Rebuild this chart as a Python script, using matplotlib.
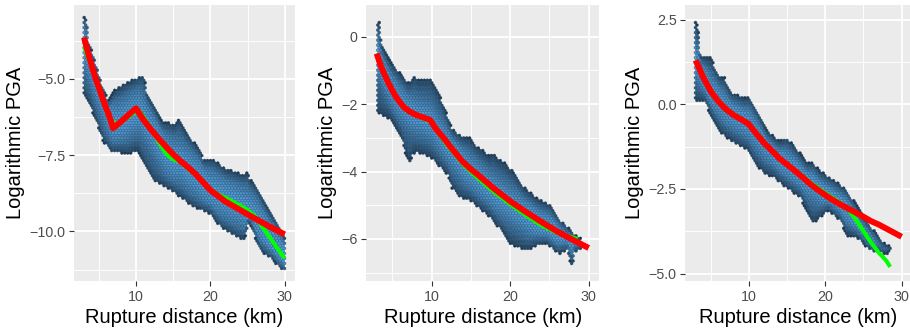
import numpy as np
import matplotlib
matplotlib.use("Agg")
import matplotlib.pyplot as plt
from matplotlib.colors import LinearSegmentedColormap, Normalize
from matplotlib.ticker import MultipleLocator

plt.rcParams['font.family'] = ['Liberation Sans', 'DejaVu Sans']
plt.rcParams['axes.unicode_minus'] = True

# ---------------- data ----------------
# Panel 1: envelope of the hexbin cloud, fitted curves
p1_up_x = [3.0, 3.35, 3.6, 4.48, 5.38, 6.27, 6.6, 7.17, 8.52, 9.64, 10.99, 11.2, 11.44, 12.56, 13.46,
           15.25, 15.7, 15.92, 16.82, 17.71, 18.61, 19.06, 20.4, 22.2, 24.44, 25.0, 25.3, 26.25, 27.59,
           29.38, 30.0]
p1_up_y = [-3.0, -3.0, -3.79, -4.44, -5.21, -5.75, -5.6, -5.37, -5.18, -5.04, -4.88, -5.1, -5.48, -5.97,
           -6.41, -6.52, -6.35, -6.4, -6.79, -7.06, -7.34, -7.66, -7.66, -7.99, -8.15, -8.1, -8.3, -8.54,
           -9.19, -9.85, -10.2]
p1_lo_x = [3.0, 3.8, 4.48, 5.6, 6.73, 8.96, 10.3, 10.98, 12.33, 14.1, 15.92, 17.71, 19.96, 21.53, 23.55,
           24.44, 24.8, 25.1, 25.5, 25.8, 26.69, 28.48, 29.38, 30.0]
p1_lo_y = [-5.5, -5.86, -6.3, -7.06, -7.39, -7.44, -7.34, -7.72, -8.32, -8.55, -8.86, -9.19, -9.41, -9.9,
           -10.18, -10.28, -10.1, -9.74, -9.8, -10.06, -10.61, -10.94, -11.21, -11.3]
p1_red_x = [3.0, 3.5, 4.0, 4.5, 5.0, 5.5, 6.0, 6.5, 6.9, 8.0, 9.0, 10.0, 11.0, 12.0, 13.0, 14.0, 15.0,
            16.0, 17.0, 18.0, 20.0, 22.0, 24.0, 26.0, 28.0, 30.0]
p1_red_y = [-3.65, -4.12, -4.55, -4.95, -5.3, -5.65, -5.98, -6.3, -6.62, -6.4, -6.18, -5.97, -6.35, -6.66,
            -6.95, -7.22, -7.48, -7.7, -7.9, -8.12, -8.65, -9.02, -9.3, -9.58, -9.85, -10.1]
p1_grn_x = [3.0, 4.0, 5.0, 6.0, 6.8, 7.5, 8.5, 9.5, 10.4, 11.0, 12.0, 13.0, 14.0, 15.0, 16.0, 17.0, 18.0,
            19.0, 20.0, 21.0, 22.0, 23.0, 24.0, 25.0, 26.0, 27.0, 28.0, 29.0, 30.0]
p1_grn_y = [-3.95, -4.6, -5.35, -6.0, -6.45, -6.45, -6.33, -6.15, -6.05, -6.25, -6.65, -7.05, -7.45, -7.65,
            -7.72, -7.95, -8.15, -8.4, -8.62, -8.78, -8.9, -9.02, -9.15, -9.3, -9.5, -9.85, -10.2, -10.55,
            -10.88]

# Panel 2
p2_up_x = [3.0, 3.35, 3.6, 3.83, 4.69, 5.96, 7.02, 7.5, 7.87, 8.2, 8.51, 9.78, 10.84, 11.48, 12.55, 13.82,
           14.88, 15.73, 17.43, 17.85, 18.2, 19.12, 20.19, 21.67, 23.38, 25.07, 26.34, 28.04, 28.68, 28.9]
p2_up_y = [0.5, 0.4, -0.25, -0.34, -0.74, -1.09, -1.38, -1.3, -1.16, -1.3, -1.28, -1.26, -1.63, -2.03,
           -2.72, -2.97, -3.02, -3.26, -3.56, -3.46, -3.6, -3.71, -3.96, -4.45, -4.8, -4.99, -5.44, -5.83,
           -5.98, -6.0]
p2_lo_x = [3.0, 3.41, 4.69, 5.54, 6.18, 6.6, 7.0, 7.24, 7.5, 7.87, 9.78, 11.06, 12.11, 12.5, 13.6, 14.88,
           17.43, 19.12, 19.97, 22.1, 23.38, 24.65, 26.13, 27.3, 27.6, 27.9, 28.2, 28.9]
p2_lo_y = [-2.23, -2.27, -2.42, -2.72, -3.01, -3.41, -3.6, -3.76, -3.5, -3.41, -3.55, -3.85, -4.1, -4.45,
           -4.75, -4.85, -5.34, -5.83, -6.13, -6.33, -6.18, -6.13, -6.43, -6.33, -6.6, -6.87, -6.4, -6.3]
p2_red_x = [3.0, 3.5, 4.0, 4.5, 5.0, 5.5, 6.0, 6.5, 7.2, 8.0, 9.0, 9.8, 10.5, 11.5, 12.5, 13.2, 14.0, 15.0,
            16.0, 18.0, 20.0, 22.0, 24.0, 26.0, 28.0, 30.0]
p2_red_y = [-0.5, -0.85, -1.12, -1.38, -1.6, -1.8, -1.96, -2.1, -2.22, -2.32, -2.4, -2.47, -2.72, -3.0,
            -3.3, -3.5, -3.72, -3.93, -4.12, -4.52, -4.88, -5.2, -5.5, -5.78, -6.03, -6.27]
p2_grn_x = [3.0, 4.0, 5.0, 6.0, 7.2, 8.0, 9.0, 10.0, 11.0, 12.0, 13.0, 14.0, 15.0, 16.0, 18.0, 20.0, 22.0,
            24.0, 26.0, 28.0, 28.6]
p2_grn_y = [-0.5, -1.12, -1.6, -1.96, -2.24, -2.34, -2.43, -2.55, -2.9, -3.22, -3.5, -3.78, -4.01, -4.22,
            -4.62, -4.97, -5.3, -5.6, -5.82, -5.96, -6.0]

# Panel 3
p3_up_x = [3.0, 3.4, 3.6, 4.5, 5.06, 5.5, 6.16, 6.82, 7.3, 7.68, 9.44, 10.09, 11.18, 12.27, 13.58, 14.06,
           14.94, 16.0, 16.68, 17.56, 18.43, 19.31, 21.05, 22.8, 23.89, 24.98, 26.29, 27.6, 28.5]
p3_up_y = [2.49, 2.1, 1.4, 1.38, 1.36, 1.1, 0.81, 0.77, 0.5, 0.32, 0.18, 0.21, -0.22, -0.76, -1.05, -1.1,
           -1.0, -1.25, -1.45, -1.74, -1.74, -1.99, -2.24, -2.53, -2.92, -3.32, -3.71, -4.1, -4.2]
p3_lo_x = [3.0, 4.19, 5.06, 6.37, 8.13, 9.87, 10.75, 12.06, 13.37, 14.06, 15.37, 16.68, 17.56, 18.43,
           19.31, 20.39, 21.93, 22.8, 24.11, 25.42, 26.29, 27.1, 28.04, 28.5]
p3_lo_y = [0.08, 0.08, -0.37, -0.86, -1.15, -1.35, -1.74, -2.04, -2.14, -2.3, -2.53, -2.73, -3.12, -3.51,
           -3.32, -3.12, -3.42, -3.86, -3.91, -4.2, -4.35, -4.35, -4.4, -4.3]
p3_red_x = [3.0, 4.0, 5.0, 6.0, 7.0, 8.0, 9.0, 9.9, 11.0, 12.0, 13.0, 14.0, 15.0, 16.0, 17.0, 18.0, 19.0,
            20.0, 21.0, 22.0, 23.0, 24.0, 25.0, 26.0, 27.0, 28.0, 29.0, 30.0]
p3_red_y = [1.3, 0.8, 0.38, 0.08, -0.15, -0.32, -0.45, -0.57, -0.88, -1.15, -1.37, -1.6, -1.78, -1.96,
            -2.15, -2.35, -2.52, -2.68, -2.83, -2.96, -3.08, -3.2, -3.32, -3.45, -3.55, -3.67, -3.79, -3.91]
p3_grn_x = [3.0, 5.0, 7.0, 9.9, 12.0, 14.0, 16.0, 18.0, 20.0, 22.0, 23.0, 23.5, 24.0, 25.0, 26.0, 27.0,
            28.0, 28.5]
p3_grn_y = [1.3, 0.38, -0.15, -0.57, -1.15, -1.6, -1.94, -2.3, -2.62, -2.92, -3.1, -3.25, -3.4, -3.75,
            -4.08, -4.38, -4.62, -4.8]

xlabel = "Rupture distance (km)"
ylabel = "Logarithmic PGA"

panels = [
    dict(up=(p1_up_x, p1_up_y), lo=(p1_lo_x, p1_lo_y), red=(p1_red_x, p1_red_y),
         grn=(p1_grn_x, p1_grn_y), ylim=(-11.626, -2.586), ymaj=2.5, ymin_=1.25,
         left_px=74.0, right_px=294.7, sigma=0.6),
    dict(up=(p2_up_x, p2_up_y), lo=(p2_lo_x, p2_lo_y), red=(p2_red_x, p2_red_y),
         grn=(p2_grn_x, p2_grn_y), ylim=(-7.249, 0.941), ymaj=2.0, ymin_=1.0,
         left_px=366.1, right_px=599.3, sigma=0.45),
    dict(up=(p3_up_x, p3_up_y), lo=(p3_lo_x, p3_lo_y), red=(p3_red_x, p3_red_y),
         grn=(p3_grn_x, p3_grn_y), ylim=(-5.217, 2.932), ymaj=2.5, ymin_=1.25,
         left_px=685.3, right_px=911.9, sigma=0.42),
]

W, H = 910, 336
fig = plt.figure(figsize=(W / 100, H / 100), dpi=100)

cmap = LinearSegmentedColormap.from_list("gg", ["#132B43", "#56B1F7"])
norm = Normalize(vmin=-0.15, vmax=1.15)
hex_px = 2.9
top_px, bot_px = 5.0, 281.0
xlim = (1.65, 31.35)

for p in panels:
    ax = fig.add_axes([p['left_px'] / W, 1 - bot_px / H,
                       (p['right_px'] - p['left_px']) / W, (bot_px - top_px) / H])
    ax.set_facecolor("#EBEBEB")
    for s in ax.spines.values():
        s.set_visible(False)
    ylim = p['ylim']
    w_px = p['right_px'] - p['left_px']
    h_px = bot_px - top_px
    nx = int(round(w_px / hex_px))
    ny = int(round(h_px / (hex_px * np.sqrt(3))))
    sx = (xlim[1] - xlim[0]) / nx
    sy = (ylim[1] - ylim[0]) / ny
    # hex lattice centres (same lattice as matplotlib's hexbin)
    i1, j1 = np.meshgrid(np.arange(nx + 1), np.arange(ny + 1))
    i2, j2 = np.meshgrid(np.arange(nx), np.arange(ny))
    cx = np.concatenate([xlim[0] + i1.ravel() * sx, xlim[0] + (i2.ravel() + 0.5) * sx])
    cy = np.concatenate([ylim[0] + j1.ravel() * sy, ylim[0] + (j2.ravel() + 0.5) * sy])
    ux, uy = p['up']
    lx, ly = p['lo']
    gx, gy = p['grn']
    xmin_d, xmax_d = min(ux[0], lx[0]), max(ux[-1], lx[-1])
    upper = np.interp(cx, ux, uy)
    lower = np.interp(cx, lx, ly)
    inside = (cx >= xmin_d - 0.05) & (cx <= xmax_d + 0.05) & (cy <= upper + 0.02) & (cy >= lower - 0.02)
    cx, cy, upper, lower = cx[inside], cy[inside], upper[inside], lower[inside]
    mid = np.interp(cx, gx, gy)
    gauss = np.exp(-0.5 * ((cy - mid) / p['sigma']) ** 2)
    edge = np.clip(np.minimum(upper - cy, cy - lower) / 0.35, 0, 1) ** 0.6
    cval = edge * (0.3 + 0.7 * gauss)
    ax.hexbin(cx, cy, C=cval, gridsize=(nx, ny), extent=(xlim[0], xlim[1], ylim[0], ylim[1]),
              reduce_C_function=np.mean, cmap=cmap, norm=norm,
              edgecolors=(0.06, 0.14, 0.22, 0.55), linewidths=0.3, zorder=2)
    rx, ry = p['red']
    ax.plot(gx, gy, color="#00FF00", lw=2.9, zorder=3, solid_capstyle='butt')
    ax.plot(rx, ry, color="#FF0000", lw=4.3, zorder=4, solid_capstyle='butt')

    ax.set_xlim(*xlim)
    ax.set_ylim(*ylim)
    ax.xaxis.set_major_locator(MultipleLocator(10))
    ax.xaxis.set_minor_locator(MultipleLocator(5))
    ax.yaxis.set_major_locator(MultipleLocator(p['ymaj']))
    ax.yaxis.set_minor_locator(MultipleLocator(p['ymin_']))
    ax.grid(which='major', color='white', lw=1.3)
    ax.grid(which='minor', color='white', lw=0.65)
    ax.set_axisbelow(True)
    ax.tick_params(which='major', direction='out', length=3.6, width=0.8, color='#333333',
                   labelsize=10.3, labelcolor='#4D4D4D', pad=2.6)
    ax.tick_params(which='minor', length=0)
    ax.set_xlabel(xlabel, fontsize=14.5, color='black', labelpad=3)
    ax.set_ylabel(ylabel, fontsize=14.5, color='black', labelpad=3)

fig.savefig("out.png", dpi=100)
